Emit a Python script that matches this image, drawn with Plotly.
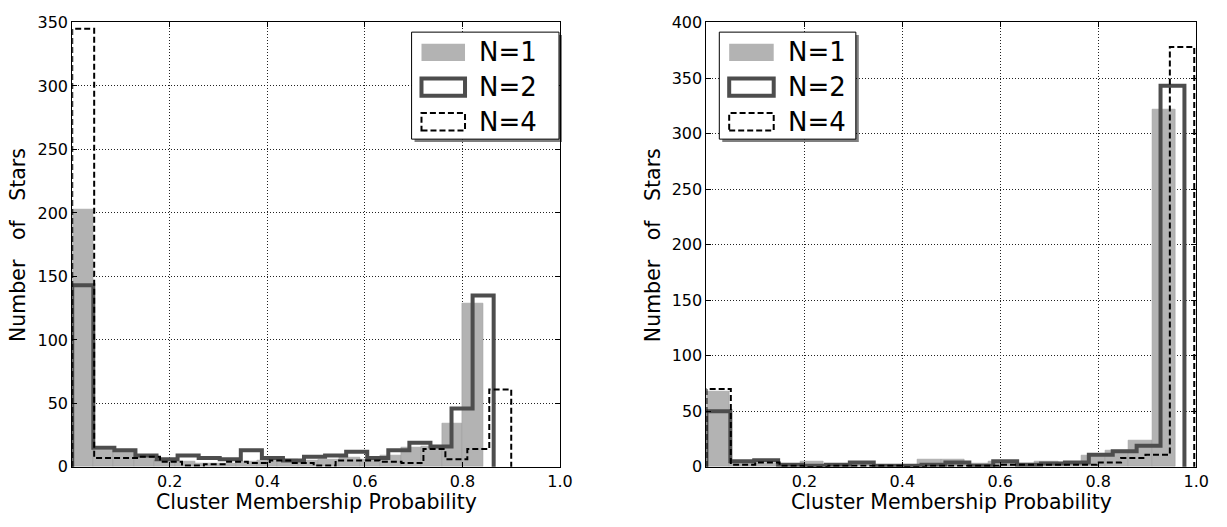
import numpy as np
import plotly.graph_objects as go

W, H = 1227, 527

# ---------------- data (counts per bin, 20 bins each) ----------------
labels = ["N=1", "N=2", "N=4"]

left_n1 = [203, 13, 11, 8, 5, 4, 3, 3, 4, 5, 6, 5, 6, 7, 6, 9, 15, 16, 34, 129]
left_n2 = [143, 15, 13, 9, 6, 9, 7, 6, 13, 7, 5, 8, 9, 12, 7, 13, 19, 16, 46, 135]
left_n4 = [345, 7, 7, 8, 4, 1, 2, 4, 3, 5, 3, 1, 5, 5, 4, 3, 14, 6, 14, 61]

right_n1 = [68, 4, 3, 1, 5, 2, 2, 1, 1, 7, 7, 3, 5, 3, 5, 4, 10, 15, 24, 322]
right_n2 = [50, 5, 6, 2, 1, 2, 4, 1, 1, 2, 4, 1, 5, 2, 3, 4, 11, 14, 19, 343]
right_n4 = [70, 2, 4, 1, 0, 1, 1, 1, 0, 1, 1, 1, 2, 2, 2, 2, 4, 8, 11, 378]

# data ranges (min, max) of each sample -> histogram bin edges
left_ranges = [(0.0, 0.842), (0.0, 0.864), (0.0, 0.900)]
right_ranges = [(0.0, 0.958), (0.0, 0.976), (0.0, 0.996)]

x_ticks = [0.2, 0.4, 0.6, 0.8, 1.0]
left_yticks = [0, 50, 100, 150, 200, 250, 300, 350]
right_yticks = [0, 50, 100, 150, 200, 250, 300, 350, 400]

# ---------------- styles ----------------
GRAY_FILL = "#b3b3b3"
DARK = "#4d4d4d"
FONT = "DejaVu Sans"


def edges_of(rng, n):
    return np.linspace(rng[0], rng[1], n + 1)


def step_xy(counts, rng):
    e = edges_of(rng, len(counts))
    xs = [e[0]] + list(e[:-1]) + [e[-1]]
    ys = [0] + list(counts) + [0]
    return xs, ys


fig = go.Figure()

panels = [
    (left_n1, left_n2, left_n4, left_ranges, "x", "y"),
    (right_n1, right_n2, right_n4, right_ranges, "x2", "y2"),
]

for n1, n2, n4, rngs, xa, ya in panels:
    e1 = edges_of(rngs[0], len(n1))
    centers = (e1[:-1] + e1[1:]) / 2
    widths = np.diff(e1)
    fig.add_trace(go.Bar(
        x=centers, y=n1, width=widths, xaxis=xa, yaxis=ya,
        marker=dict(color=GRAY_FILL, line=dict(color="#a0a0a0", width=0.6)),
        showlegend=False, name=labels[0]))
    xs, ys = step_xy(n2, rngs[1])
    fig.add_trace(go.Scatter(
        x=xs, y=ys, mode="lines", line=dict(color=DARK, width=4, shape="hv"),
        xaxis=xa, yaxis=ya, showlegend=False, name=labels[1], cliponaxis=False))
    xs, ys = step_xy(n4, rngs[2])
    fig.add_trace(go.Scatter(
        x=xs, y=ys, mode="lines",
        line=dict(color="black", width=2, shape="hv", dash="6px,3px"),
        xaxis=xa, yaxis=ya, showlegend=False, name=labels[2], cliponaxis=False))


def px(x):
    return x / W


def py(y):
    return 1 - y / H


ydom = [py(475), py(14)]
axis_common = dict(
    showline=True, linecolor="black", linewidth=1, mirror="ticks",
    ticks="inside", ticklen=5, tickcolor="black",
    showgrid=True, gridcolor="#222", griddash="1px,2px", gridwidth=1,
    zeroline=False, tickfont=dict(family=FONT, size=16, color="black"),
)

fig.update_layout(
    width=W, height=H, margin=dict(l=0, r=0, t=0, b=0),
    paper_bgcolor="white", plot_bgcolor="white", bargap=0,
    showlegend=False,
    xaxis=dict(domain=[px(73), px(566)], range=[0, 1], tickvals=x_ticks,
               ticktext=[f"{v:.1f}" for v in x_ticks], anchor="y", **axis_common),
    yaxis=dict(domain=ydom, range=[0, 350], tickvals=left_yticks, anchor="x", **axis_common),
    xaxis2=dict(domain=[px(714), px(1209)], range=[0, 1], tickvals=x_ticks,
                ticktext=[f"{v:.1f}" for v in x_ticks], anchor="y2", **axis_common),
    yaxis2=dict(domain=ydom, range=[0, 400], tickvals=right_yticks, anchor="x2", **axis_common),
)

annotations = []
shapes = []

YTITLE = "Number\u00a0\u00a0\u00a0of\u00a0\u00a0\u00a0Stars"
for xc in [(73 + 566) / 2, (714 + 1209) / 2]:
    annotations.append(dict(
        x=px(xc), y=py(511), xref="paper", yref="paper", text="Cluster Membership Probability",
        showarrow=False, font=dict(family=FONT, size=20.5, color="black"),
        xanchor="center", yanchor="middle"))
for xt in [18, 660]:
    annotations.append(dict(
        x=px(xt), y=py(245), xref="paper", yref="paper", text=YTITLE,
        showarrow=False, textangle=-90, font=dict(family=FONT, size=20.5, color="black"),
        xanchor="center", yanchor="middle"))

# manual legends (matplotlib-style with shadow)
for bx0, bx1, patch_x0, patch_x1, text_x in [(416, 565, 426, 470, 482), (727, 865, 737, 782, 794)]:
    by0, by1 = 24, 135
    shapes.append(dict(type="rect", xref="paper", yref="paper",
                       x0=px(bx0 + 3), x1=px(bx1 + 3), y0=py(by1 + 3), y1=py(by0 + 3),
                       fillcolor="rgba(0,0,0,0.5)", line=dict(width=0), layer="above"))
    shapes.append(dict(type="rect", xref="paper", yref="paper",
                       x0=px(bx0), x1=px(bx1), y0=py(by1), y1=py(by0),
                       fillcolor="white", line=dict(color="black", width=1), layer="above"))
    rows = [45, 81, 117]
    styles = [
        dict(fillcolor=GRAY_FILL, line=dict(width=0)),
        dict(fillcolor="rgba(0,0,0,0)", line=dict(color=DARK, width=4)),
        dict(fillcolor="rgba(0,0,0,0)", line=dict(color="black", width=2, dash="6px,3px")),
    ]
    for lab, yc, st in zip(labels, rows, styles):
        shapes.append(dict(type="rect", xref="paper", yref="paper",
                           x0=px(patch_x0), x1=px(patch_x1), y0=py(yc + 9), y1=py(yc - 9),
                           layer="above", **st))
        annotations.append(dict(
            x=px(text_x), y=py(yc), xref="paper", yref="paper", text=lab, showarrow=False,
            font=dict(family=FONT, size=26, color="black"), xanchor="left", yanchor="middle"))

fig.update_layout(annotations=annotations, shapes=shapes)
fig.write_html("out.html")
